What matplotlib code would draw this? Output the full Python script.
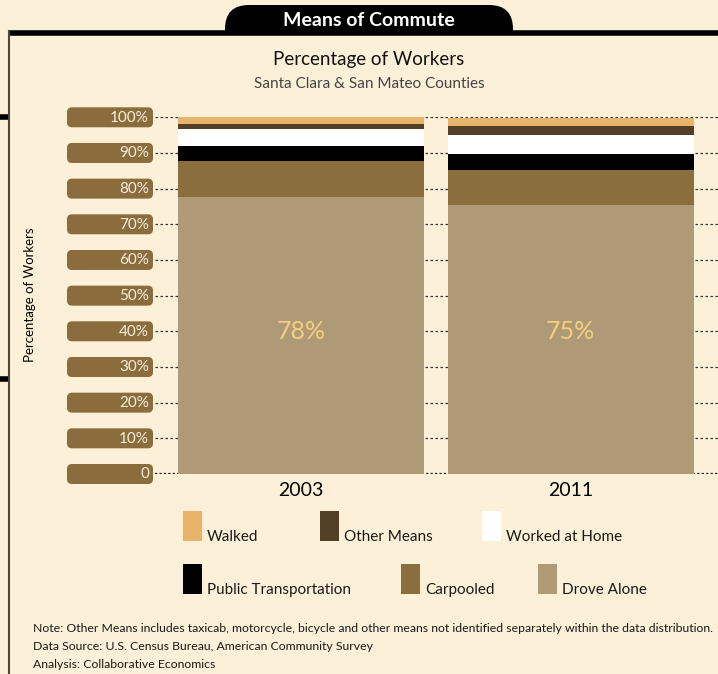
import matplotlib
matplotlib.use("Agg")
import matplotlib.pyplot as plt
from matplotlib.patches import FancyBboxPatch, Rectangle

plt.rcParams['font.family'] = ['Lato', 'DejaVu Sans']

# data (percent of workers)
years = ['2003', '2011']
drove_alone = [77.6, 75.4]
carpooled = [10.1, 9.8]
public_transport = [4.2, 4.5]
worked_home = [4.8, 5.3]
other_means = [1.4, 2.5]
walked = [1.9, 2.4]
y_ticks = [0, 10, 20, 30, 40, 50, 60, 70, 80, 90, 100]
y_tick_labels = ['0', '10%', '20%', '30%', '40%', '50%', '60%', '70%', '80%', '90%', '100%']

series = [
    ('Drove Alone', drove_alone, '#ae9a76'),
    ('Carpooled', carpooled, '#8b6e3d'),
    ('Public Transportation', public_transport, '#000000'),
    ('Worked at Home', worked_home, '#ffffff'),
    ('Other Means', other_means, '#523f26'),
    ('Walked', walked, '#e6b56b'),
]

BG = '#fcf0d8'
W, H = 718, 674
fig = plt.figure(figsize=(W / 100, H / 100), dpi=100, facecolor=BG)

# overlay axes in pixel coords (y down) for frame, pills, legend, notes
ov = fig.add_axes([0, 0, 1, 1], zorder=0)
ov.set_xlim(0, W)
ov.set_ylim(H, 0)
ov.axis('off')
ov.patch.set_alpha(0)

# main plot axes
ax = fig.add_axes([155 / W, (H - 474) / H, (W - 155) / W, (474 - 117.3) / H], zorder=1)
ax.patch.set_alpha(0)
for s in ax.spines.values():
    s.set_visible(False)
ax.set_ylim(0, 100)
ax.set_xlim(-0.542, 1.547)

x = range(len(years))
for t in y_ticks[1:]:
    ax.axhline(t, color='#333333', lw=0.9, ls=(0, (2, 2)), zorder=0)
ax.axhline(0, color='#111111', lw=1.6, ls=(0, (1, 1)), zorder=0)

bottom = [0, 0]
for name, vals, col in series:
    ax.bar(x, vals, width=0.913, bottom=bottom, color=col, zorder=2, linewidth=0)
    bottom = [b + v for b, v in zip(bottom, vals)]

for i, v in enumerate(drove_alone):
    ax.text(i, 40, f'{v:.0f}%', ha='center', va='center', fontsize=18, color='#f4d07e', zorder=3)

ax.set_yticks([])
ax.set_xticks(list(x))
ax.set_xticklabels(years, fontsize=14)
ax.tick_params(axis='x', length=0, pad=6)

# pills for y tick labels
for t, lab in zip(y_ticks, y_tick_labels):
    py = H - ax.transData.transform((0, t))[1]
    ov.add_patch(FancyBboxPatch((67, py - 10), 86, 20, boxstyle='round,pad=0,rounding_size=5',
                                fc='#8b6c3c', ec='none'))
    ov.text(149, py + 0.5, lab, ha='right', va='center', fontsize=11, color='#f8eedc')

ov.text(30, 295, 'Percentage of Workers', rotation=90, ha='center', va='center', fontsize=9.5)

# frame
ov.plot([8, W], [32.5, 32.5], color='black', lw=4, solid_capstyle='butt')
ov.plot([8.5, 8.5], [31, H], color='#4f463b', lw=1.5)
for my in [116.5, 379]:
    ov.plot([0, 8], [my, my], color='black', lw=4, solid_capstyle='butt')

tab = FancyBboxPatch((225, 5), 288, 60, boxstyle='round,pad=0,rounding_size=24', fc='black', ec='none')
ov.add_patch(tab)
tab.set_clip_path(Rectangle((0, 0), W, 33, transform=ov.transData))
ov.text(369, 20, 'Means of Commute', ha='center', va='center', fontsize=14, fontweight='bold', color='white')

ov.text(369, 59, 'Percentage of Workers', ha='center', va='center', fontsize=13.5, color='#111111')
ov.text(369, 84, 'Santa Clara & San Mateo Counties', ha='center', va='center', fontsize=11, color='#444444')

# legend
legend_order = ['Walked', 'Other Means', 'Worked at Home', 'Public Transportation', 'Carpooled', 'Drove Alone']
legend_pos = [(183, 511), (320, 511), (482, 511), (183, 564), (401, 564), (538, 564)]
colors = {n: c for n, _, c in series}
for name, (lx, ly) in zip(legend_order, legend_pos):
    ov.add_patch(Rectangle((lx, ly), 19, 30, fc=colors[name], ec='none'))
    ov.text(lx + 24, ly + 30, name, ha='left', va='baseline', fontsize=11, color='#1a1a1a')

notes = [
    'Note: Other Means includes taxicab, motorcycle, bicycle and other means not identified separately within the data distribution.',
    'Data Source: U.S. Census Bureau, American Community Survey',
    'Analysis: Collaborative Economics',
]
for i, n in enumerate(notes):
    ov.text(33, 629 + 18 * i, n, ha='left', va='center', fontsize=8.8, color='#1a1a1a')

fig.savefig('out.png', dpi=100, facecolor=BG)
